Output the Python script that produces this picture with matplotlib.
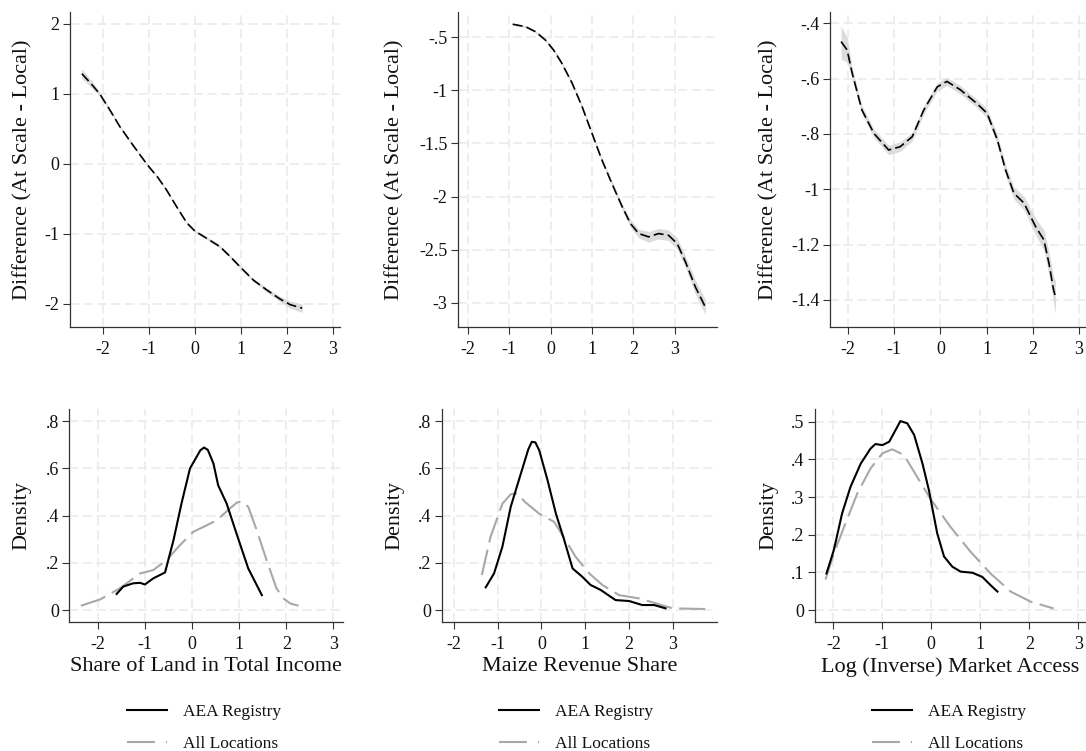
import matplotlib
matplotlib.use('Agg')
import matplotlib.pyplot as plt
from matplotlib.lines import Line2D

plt.rcParams['font.family'] = ['Liberation Serif', 'DejaVu Serif']

# ---------------- data ----------------
xtick_vals = [-2, -1, 0, 1, 2, 3]
xtick_labels = ['-2', '-1', '0', '1', '2', '3']

# Panel 1: Share of land (difference, at scale - local)
p1_x = [-2.46, -2.25, -2.07, -1.85, -1.63, -1.35, -1.05, -0.80, -0.62, -0.40, -0.18, 0.00,
        0.25, 0.54, 0.76, 0.98, 1.27, 1.56, 1.85, 2.07, 2.33]
p1_y = [1.29, 1.14, 1.00, 0.77, 0.53, 0.27, 0.00, -0.20, -0.37, -0.61, -0.84, -0.96,
        -1.06, -1.18, -1.32, -1.47, -1.66, -1.80, -1.93, -2.01, -2.06]
p1_lo = [1.22, 1.09, 0.97, 0.75, 0.51, 0.255, -0.015, -0.215, -0.385, -0.625, -0.855, -0.975,
         -1.08, -1.20, -1.34, -1.49, -1.68, -1.83, -1.97, -2.06, -2.12]
p1_hi = [1.36, 1.19, 1.03, 0.79, 0.55, 0.285, 0.015, -0.185, -0.355, -0.595, -0.825, -0.945,
         -1.04, -1.16, -1.30, -1.45, -1.64, -1.77, -1.89, -1.96, -2.00]
p1_yticks = [2, 1, 0, -1, -2]
p1_ylabels = ['2', '1', '0', '-1', '-2']

# Panel 2: Maize revenue share
p2_x = [-0.92, -0.61, -0.37, -0.13, 0.07, 0.27, 0.52, 0.76, 1.00, 1.24, 1.48, 1.73, 1.93,
        2.13, 2.37, 2.61, 2.85, 3.06, 3.26, 3.50, 3.74]
p2_y = [-0.377, -0.40, -0.447, -0.525, -0.62, -0.745, -0.934, -1.154, -1.406, -1.657, -1.877,
        -2.097, -2.255, -2.349, -2.380, -2.349, -2.365, -2.443, -2.616, -2.852, -3.04]
p2_lo = [-0.387, -0.41, -0.457, -0.537, -0.635, -0.76, -0.95, -1.17, -1.425, -1.677, -1.90,
         -2.125, -2.29, -2.39, -2.43, -2.40, -2.415, -2.495, -2.67, -2.92, -3.11]
p2_hi = [-0.367, -0.39, -0.437, -0.513, -0.605, -0.73, -0.918, -1.138, -1.387, -1.637, -1.854,
         -2.069, -2.22, -2.31, -2.33, -2.30, -2.315, -2.39, -2.56, -2.785, -2.97]
p2_yticks = [-0.5, -1, -1.5, -2, -2.5, -3]
p2_ylabels = ['-.5', '-1', '-1.5', '-2', '-2.5', '-3']

# Panel 3: Log (inverse) market access
p3_x = [-2.15, -2.02, -1.91, -1.70, -1.44, -1.12, -0.87, -0.61, -0.36, -0.07, 0.14, 0.43,
        0.79, 1.01, 1.23, 1.41, 1.59, 1.81, 2.06, 2.24, 2.35, 2.45, 2.49]
p3_y = [-0.466, -0.496, -0.58, -0.713, -0.798, -0.858, -0.846, -0.81, -0.713, -0.63, -0.61,
        -0.64, -0.69, -0.725, -0.82, -0.93, -1.014, -1.05, -1.135, -1.183, -1.268, -1.364, -1.388]
p3_lo = [-0.53, -0.54, -0.60, -0.728, -0.813, -0.875, -0.863, -0.826, -0.728, -0.645, -0.625,
         -0.655, -0.705, -0.742, -0.838, -0.95, -1.035, -1.075, -1.165, -1.22, -1.31, -1.41, -1.45]
p3_hi = [-0.41, -0.45, -0.56, -0.698, -0.783, -0.841, -0.829, -0.794, -0.698, -0.615, -0.595,
         -0.625, -0.675, -0.708, -0.802, -0.91, -0.993, -1.025, -1.105, -1.146, -1.226, -1.318, -1.33]
p3_yticks = [-0.4, -0.6, -0.8, -1.0, -1.2, -1.4]
p3_ylabels = ['-.4', '-.6', '-.8', '-1', '-1.2', '-1.4']

# Panel 4: density, share of land
d1_aea_x = [-1.61, -1.47, -1.26, -1.11, -1.01, -0.83, -0.58, -0.40, -0.23, -0.05, 0.09, 0.17,
            0.25, 0.33, 0.45, 0.55, 0.73, 0.94, 1.19, 1.48]
d1_aea_y = [0.068, 0.099, 0.113, 0.115, 0.108, 0.134, 0.159, 0.296, 0.451, 0.599, 0.648, 0.676,
            0.688, 0.678, 0.62, 0.528, 0.451, 0.324, 0.176, 0.063]
d1_all_x = [-2.37, -1.96, -1.54, -1.11, -0.83, -0.55, -0.26, 0.02, 0.27, 0.52, 0.80, 0.95,
            1.05, 1.19, 1.37, 1.58, 1.79, 1.94, 2.08, 2.26]
d1_all_y = [0.018, 0.045, 0.092, 0.155, 0.169, 0.211, 0.275, 0.331, 0.355, 0.38, 0.43, 0.455,
            0.46, 0.437, 0.338, 0.211, 0.092, 0.049, 0.028, 0.018]

# Panel 5: density, maize revenue share
d2_aea_x = [-1.27, -1.08, -0.89, -0.70, -0.47, -0.30, -0.22, -0.14, -0.05, 0.14, 0.33, 0.52,
            0.71, 0.93, 1.12, 1.35, 1.69, 2.00, 2.30, 2.57, 2.83]
d2_aea_y = [0.096, 0.155, 0.268, 0.437, 0.577, 0.68, 0.712, 0.71, 0.676, 0.549, 0.408, 0.296,
            0.176, 0.141, 0.106, 0.085, 0.042, 0.038, 0.021, 0.021, 0.007]
d2_all_x = [-1.36, -1.16, -0.89, -0.70, -0.56, -0.36, -0.05, 0.29, 0.55, 0.78, 1.09, 1.39,
            1.77, 2.23, 2.61, 2.99, 3.75]
d2_all_y = [0.148, 0.31, 0.45, 0.49, 0.494, 0.455, 0.408, 0.373, 0.296, 0.225, 0.155, 0.106,
            0.063, 0.049, 0.028, 0.007, 0.004]

# Panel 6: density, market access
d3_aea_x = [-2.14, -1.99, -1.82, -1.65, -1.44, -1.24, -1.14, -1.00, -0.86, -0.73, -0.63, -0.49,
            -0.35, -0.18, -0.05, 0.12, 0.26, 0.43, 0.60, 0.84, 1.04, 1.21, 1.35]
d3_aea_y = [0.097, 0.159, 0.257, 0.327, 0.389, 0.429, 0.441, 0.438, 0.447, 0.478, 0.502, 0.496,
            0.465, 0.389, 0.319, 0.204, 0.142, 0.115, 0.102, 0.099, 0.088, 0.066, 0.049]
d3_all_x = [-2.16, -1.99, -1.78, -1.51, -1.24, -1.00, -0.80, -0.56, -0.29, 0.00, 0.39, 0.80,
            1.21, 1.62, 2.03, 2.50]
d3_all_y = [0.081, 0.150, 0.221, 0.31, 0.376, 0.416, 0.427, 0.412, 0.354, 0.292, 0.221, 0.155,
            0.097, 0.049, 0.022, 0.004]

dens_yticks_a = [0, 0.2, 0.4, 0.6, 0.8]
dens_ylabels_a = ['0', '.2', '.4', '.6', '.8']
dens_yticks_b = [0, 0.1, 0.2, 0.3, 0.4, 0.5]
dens_ylabels_b = ['0', '.1', '.2', '.3', '.4', '.5']

xlabels = ['Share of Land in Total Income', 'Maize Revenue Share', 'Log (Inverse) Market Access']
ylabel_top = 'Difference (At Scale - Local)'
ylabel_bot = 'Density'
legend_labels = ['AEA Registry', 'All Locations']

# ---------------- layout ----------------
W, H = 1086, 751
fig = plt.figure(figsize=(W / 100, H / 100), dpi=100)

GRID_C = '#e9e9e9'
BAND_C = '#dcdcdc'
GRAY_C = '#a8a8a8'
AX_C = '#333333'


def add_ax(l, r, t, b):
    return fig.add_axes([l / W, 1 - b / H, (r - l) / W, (b - t) / H])


def style(ax, box, xlim, ylim, yticks, ylabels, ylabel, ylab_px, xlabel=None):
    l, r, t, b = box
    ax.set_xlim(*xlim)
    ax.set_ylim(*ylim)
    ax.set_xticks(xtick_vals)
    ax.set_xticklabels(xtick_labels)
    ax.set_yticks(yticks)
    ax.set_yticklabels(ylabels)
    for s in ['top', 'right']:
        ax.spines[s].set_visible(False)
    for s in ['left', 'bottom']:
        ax.spines[s].set_color(AX_C)
        ax.spines[s].set_linewidth(0.9)
    ax.tick_params(axis='both', length=5, width=0.8, color=AX_C, labelsize=13, labelcolor='#111111')
    ax.tick_params(axis='x', pad=5)
    ax.tick_params(axis='y', pad=2.5)
    ax.grid(True, color=GRID_C, linewidth=1.1, linestyle=(0, (6, 3)))
    ax.set_axisbelow(True)
    ax.set_ylabel(ylabel, fontsize=16, color='#111111')
    ax.yaxis.set_label_coords((ylab_px - l) / (r - l), 0.5)
    if xlabel:
        ax.set_xlabel(xlabel, fontsize=16, color='#111111', labelpad=3.5)


dash_black = (0, (6, 2.5))
gray_style = (0, (12.5, 3.6))

# top row
top_boxes = [(70, 340, 12, 327), (457.7, 717, 12, 327), (830, 1085, 12, 327)]
top_xlims = [(-2.717, 3.152), (-2.249, 4.023), (-2.39, 3.13)]
top_ylims = [(-2.329, 2.171), (-3.229, -0.262), (-1.498, -0.359)]
top_ylab_px = [32, 404, 778]
top_data = [(p1_x, p1_y, p1_lo, p1_hi, p1_yticks, p1_ylabels),
            (p2_x, p2_y, p2_lo, p2_hi, p2_yticks, p2_ylabels),
            (p3_x, p3_y, p3_lo, p3_hi, p3_yticks, p3_ylabels)]

for box, xl, yl, lp, (x, y, lo, hi, yt, ytl) in zip(top_boxes, top_xlims, top_ylims, top_ylab_px, top_data):
    ax = add_ax(*box)
    ax.fill_between(x, lo, hi, color=BAND_C, linewidth=0, zorder=2)
    ax.plot(x, y, color='black', linewidth=1.2, linestyle=dash_black, zorder=3)
    style(ax, box, xl, yl, yt, ytl, ylabel_top, lp)

# bottom row
bot_boxes = [(69.3, 343, 409, 621.7), (442, 717, 409, 621.7), (814.7, 1085, 409, 621.7)]
bot_xlims = [(-2.617, 3.206), (-2.267, 4.003), (-2.38, 3.137)]
bot_ylims = [(-0.0495, 0.851), (-0.0495, 0.851), (-0.031, 0.534)]
bot_ylab_px = [31, 404, 778]
bot_yt = [(dens_yticks_a, dens_ylabels_a), (dens_yticks_a, dens_ylabels_a), (dens_yticks_b, dens_ylabels_b)]
bot_data = [(d1_aea_x, d1_aea_y, d1_all_x, d1_all_y),
            (d2_aea_x, d2_aea_y, d2_all_x, d2_all_y),
            (d3_aea_x, d3_aea_y, d3_all_x, d3_all_y)]
legend_px = [(127, 704), (499, 704), (871.7, 704)]

for i in range(3):
    box = bot_boxes[i]
    ax = add_ax(*box)
    ax_x, ax_y, al_x, al_y = bot_data[i]
    ax.plot(al_x, al_y, color=GRAY_C, linewidth=1.5, linestyle=gray_style, zorder=3)
    ax.plot(ax_x, ax_y, color='black', linewidth=1.5, zorder=4)
    style(ax, box, bot_xlims[i], bot_ylims[i], bot_yt[i][0], bot_yt[i][1], ylabel_bot, bot_ylab_px[i],
          xlabel=xlabels[i])
    handles = [Line2D([], [], color='black', linewidth=1.5),
               Line2D([], [], color=GRAY_C, linewidth=1.5, linestyle=(0, (13.4, 5.3, 0.6, 5)))]
    lx, ly = legend_px[i]
    fig.legend(handles, legend_labels, loc='upper left', bbox_to_anchor=(lx / W, 1 - ly / H),
               bbox_transform=fig.transFigure, frameon=False, fontsize=12.5, borderpad=0,
               borderaxespad=0, handlelength=2.3, handletextpad=0.92, labelspacing=0.88,
               labelcolor='#111111')

fig.savefig('out.png', dpi=100)
